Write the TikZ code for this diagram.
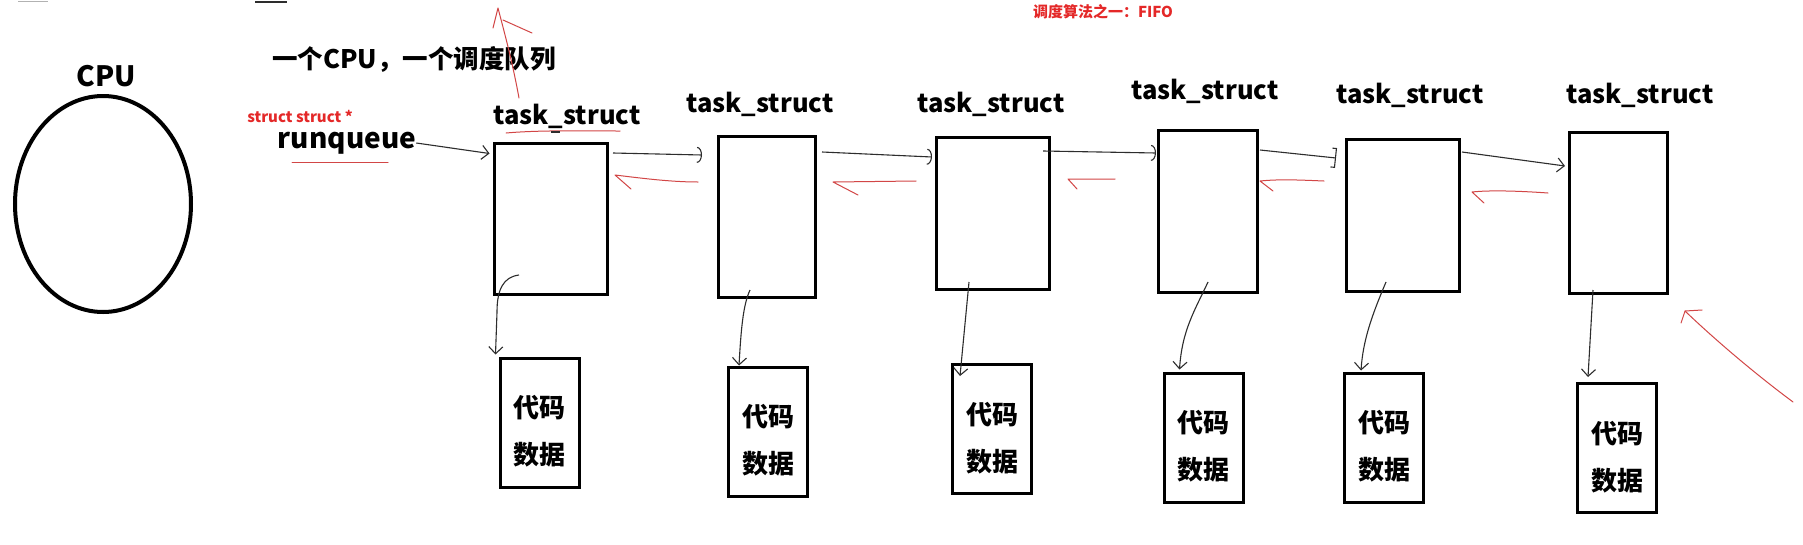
\documentclass[tikz,border=0pt]{standalone}
\usepackage{fontspec}
\setmainfont{Noto Sans CJK SC}
\usetikzlibrary{arrows.meta,calc,shapes.geometric}
\definecolor{pen}{RGB}{45,45,45}
\definecolor{redpen}{RGB}{210,70,70}
\definecolor{redtext}{RGB}{228,40,40}
\begin{document}
\begin{tikzpicture}[x=1pt,y=-1pt,
  taskbox/.style={draw=black,line width=3pt,inner sep=0pt},
  databox/.style={draw=black,line width=3pt,inner sep=0pt,minimum width=79pt,minimum height=129pt},
  lbl/.style={font=\bfseries\fontsize{28}{30}\selectfont,inner sep=0pt},
  tlbl/.style={font=\bfseries\fontsize{25.5}{28}\selectfont,inner sep=0pt},
  dtext/.style={font=\bfseries\fontsize{26}{47}\selectfont,inner sep=0pt,align=center},
  redlbl/.style={font=\bfseries\fontsize{15}{17}\selectfont,text=redtext,inner sep=0pt},
  conn/.style={draw=pen,line width=1.1pt,-{Straight Barb[length=7pt,width=14pt]}},
  connarc/.style={draw=pen,line width=1.1pt,-{Arc Barb[length=5pt,width=16pt]}},
  redline/.style={draw=redpen,line width=1pt,line join=round,line cap=round}]
\useasboundingbox[fill=white] (0,0) rectangle (1803,544);

% stray marks at the top edge
\draw[gray!60,line width=1pt] (18,1) -- (48,1);
\draw[pen,line width=1.5pt] (255,2) -- (287,2);

% CPU
\node[draw=black,line width=4pt,ellipse,minimum width=176pt,minimum height=216pt,inner sep=0pt] (cpu) at (103,204) {};
\node[lbl] (cpulbl) at (106,76) {CPU};

% titles
\node[font=\bfseries\fontsize{25.5}{28}\selectfont,inner sep=0pt] (title) at (414,59) {一个CPU，一个调度队列};
\node[redlbl] (algo) at (1103,12) {调度算法之一：FIFO};
\node[redlbl] (ptrtype) at (300,116) {struct struct *};
\node[lbl] (rq) at (347,143) {runqueue};

% task_struct boxes
\node[taskbox,minimum width=113pt,minimum height=151pt] (t1) at (550.5,218.5) {};
\node[taskbox,minimum width=97pt,minimum height=161pt] (t2) at (766.5,216.5) {};
\node[taskbox,minimum width=113pt,minimum height=152pt] (t3) at (992.5,213) {};
\node[taskbox,minimum width=99pt,minimum height=162pt] (t4) at (1207.5,211) {};
\node[taskbox,minimum width=113pt,minimum height=152pt] (t5) at (1402.5,215) {};
\node[taskbox,minimum width=98pt,minimum height=161pt] (t6) at (1618,212.5) {};

\node[tlbl] (l1) at (567,116) {task\_struct};
\node[tlbl] (l2) at (760,104) {task\_struct};
\node[tlbl] (l3) at (991,104) {task\_struct};
\node[tlbl] (l4) at (1205,91) {task\_struct};
\node[tlbl] (l5) at (1410,95) {task\_struct};
\node[tlbl] (l6) at (1640,95) {task\_struct};

% data boxes
\node[databox] (d1) at (539.5,422.5) {};
\node[databox] (d2) at (768,431.5) {};
\node[databox] (d3) at (992,429) {};
\node[databox] (d4) at (1203.5,437.5) {};
\node[databox] (d5) at (1384,437.5) {};
\node[databox] (d6) at (1617,448) {};
\foreach \i in {1,...,6}{
  \node[dtext] (d\i t) at ($(d\i.center)+(0,9)$) {代码\\数据};
}

% red underlines
\draw[redline] (292,162) -- (388,162);
\draw[redline] (506,133) .. controls (540,130) and (580,131) .. (620,131);
\draw[pen,line width=2.5pt] (551,132) -- (560,132);

% forward links
\coordinate (a1s) at (613,153); \coordinate (a1e) at (702,155);
\coordinate (a2s) at (822,152); \coordinate (a2e) at (932,157);
\coordinate (a3s) at (1043,151); \coordinate (a3e) at (1156,153);
\coordinate (a4s) at (1260,150); \coordinate (a4e) at (1336,158);
\coordinate (a5s) at (1462,152); \coordinate (a5e) at (1565,166);
\draw[conn] (rq.east) -- ($(t1.north west)+(-3,12)$);
\draw[connarc] (a1s) -- (a1e);
\draw[connarc] (a2s) -- (a2e);
\draw[connarc] (a3s) -- (a3e);
\draw[draw=pen,line width=1.1pt,-{Bracket[length=4pt,width=20pt]}] (a4s) -- (a4e);
\draw[conn] (a5s) -- (a5e);

% red backward links (hand-drawn hooks)
\coordinate (b1s) at (698,182); \coordinate (b1e) at (615,175); \coordinate (b1h) at (631,189);
\coordinate (b2s) at (916,181); \coordinate (b2e) at (833,182); \coordinate (b2h) at (858,195);
\coordinate (b3s) at (1115,179); \coordinate (b3e) at (1068,179); \coordinate (b3h) at (1077,189);
\coordinate (b4s) at (1324,181); \coordinate (b4e) at (1260,181); \coordinate (b4h) at (1273,191);
\coordinate (b5s) at (1548,193); \coordinate (b5e) at (1472,192); \coordinate (b5h) at (1484,203);
\draw[redline] (b1s) .. controls (670,182) and (640,178) .. (b1e) -- (b1h);
\draw[redline] (b2s) -- (b2e) -- (b2h);
\draw[redline] (b3s) -- (b3e) -- (b3h);
\draw[redline] (b4s) .. controls (1300,180) and (1280,179) .. (b4e) -- (b4h);
\draw[redline] (b5s) .. controls (1520,191) and (1490,190) .. (b5e) -- (b5h);

% links to code/data
\coordinate (c1s) at (519,275);
\coordinate (c2s) at (750,290);
\coordinate (c3s) at (969,282);
\coordinate (c4s) at (1208,282);
\coordinate (c5s) at (1386,282);
\coordinate (c6s) at (1593,290);
\draw[conn] (c1s) .. controls (503,277) and (497,290) .. (497,312) -- ($(d1.north west)+(-3,-2)$);
\draw[conn] (c2s) .. controls (743,305) and (741,330) .. ($(d2.north west)+(12,0)$);
\draw[conn] (c3s) -- ($(d3.north west)+(9,13)$);
\draw[conn] (c4s) .. controls (1195,310) and (1182,330) .. ($(d4.north west)+(17,-2)$);
\draw[conn] (c5s) .. controls (1372,315) and (1363,340) .. ($(d5.north west)+(18,-1)$);
\draw[conn] (c6s) -- ($(d6.north west)+(12,-5)$);

% red annotation arrows
\coordinate (u1) at (519,98); \coordinate (u2) at (498,8);
\draw[redline] (u1) .. controls (512,60) and (505,35) .. (u2) -- (493,28);
\draw[redline] (503,20) -- (532,33);
\coordinate (v1) at (1793,402); \coordinate (v2) at (1685,311);
\draw[redline] (v1) .. controls (1750,370) and (1710,335) .. (v2) -- (1681,323);
\draw[redline] (v2) -- (1702,310);
\end{tikzpicture}
\end{document}
